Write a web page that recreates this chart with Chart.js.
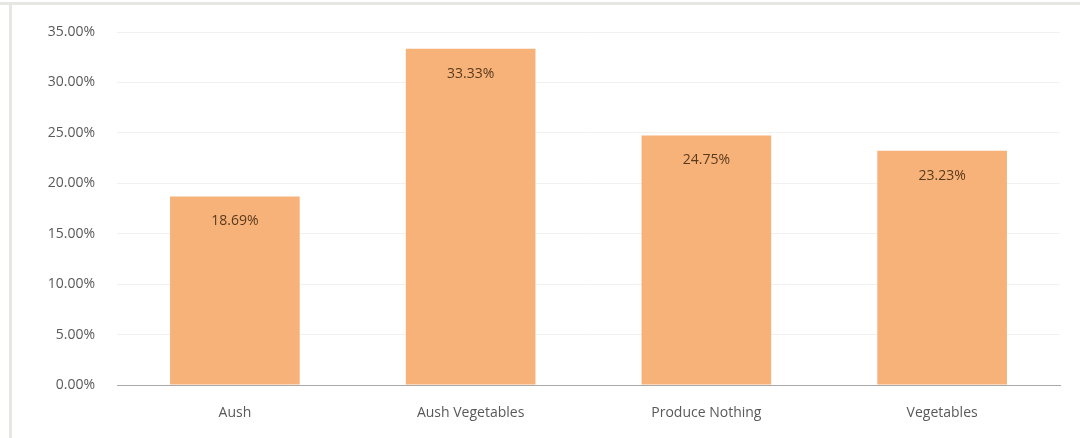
<!DOCTYPE html>
<html>
<head>
<meta charset="utf-8">
<script src="https://cdn.jsdelivr.net/npm/chart.js@4.4.1/dist/chart.umd.min.js"></script>
<style>
  html, body { margin: 0; padding: 0; background: #ffffff; }
  #wrap { width: 1080px; height: 438px; position: relative; }
</style>
</head>
<body>
<div id="wrap"><canvas id="shareChart" width="1080" height="438"></canvas></div>
<script>
// Share of households by what they grow
const categories = ['Aush', 'Aush Vegetables', 'Produce Nothing', 'Vegetables'];
const shares = [0.1869, 0.3333, 0.2475, 0.2323];
const yTicks = [0, 0.05, 0.10, 0.15, 0.20, 0.25, 0.30, 0.35];

const labelFont = "'Open Sans', 'DejaVu Sans', sans-serif";

function pct(v) {
    return (v * 100).toFixed(2) + '%';
}

// Thin grey frame along the top and left of the panel
const framePlugin = {
    id: 'frame',
    beforeDraw(chart) {
        const ctx = chart.ctx;
        ctx.save();
        ctx.fillStyle = '#e6e6e2';
        ctx.fillRect(0, 2, chart.width, 3);
        ctx.fillRect(9, 2, 3, chart.height);
        ctx.restore();
    }
};

// Value written inside each bar, just under its top
const valueLabels = {
    id: 'valueLabels',
    afterDatasetsDraw(chart) {
        const ctx = chart.ctx;
        const meta = chart.getDatasetMeta(0);
        ctx.save();
        ctx.font = '14px ' + labelFont;
        ctx.fillStyle = '#5a3a1c';
        ctx.textAlign = 'center';
        ctx.textBaseline = 'middle';
        meta.data.forEach((bar, i) => {
            ctx.fillText(pct(shares[i]), bar.x, bar.y + 25);
        });
        ctx.restore();
    }
};

new Chart(document.getElementById('shareChart'), {
    type: 'bar',
    data: {
        labels: categories,
        datasets: [{
            data: shares,
            backgroundColor: '#f7b27a',
            borderWidth: 0,
            barPercentage: 0.55,
            categoryPercentage: 1.0
        }]
    },
    options: {
        responsive: false,
        animation: false,
        layout: {
            padding: { left: 12, right: 20, top: 32, bottom: 0 }
        },
        scales: {
            x: {
                afterFit(scale) { scale.height = 53; },
                grid: { display: false, drawTicks: false },
                border: { display: true, color: '#a9a9a9', width: 1 },
                ticks: {
                    color: '#595959',
                    font: { family: labelFont, size: 14 },
                    padding: 20
                }
            },
            y: {
                min: 0,
                max: 0.35,
                afterFit(scale) { scale.width = 105; },
                afterBuildTicks(scale) {
                    scale.ticks = yTicks.map(v => ({ value: v }));
                },
                grid: {
                    color: '#f1f1f1',
                    drawTicks: false
                },
                border: { display: false },
                ticks: {
                    color: '#595959',
                    font: { family: labelFont, size: 14 },
                    padding: 22,
                    callback: v => pct(v)
                }
            }
        },
        plugins: {
            legend: { display: false },
            tooltip: { enabled: false }
        }
    },
    plugins: [framePlugin, valueLabels]
});
</script>
</body>
</html>
